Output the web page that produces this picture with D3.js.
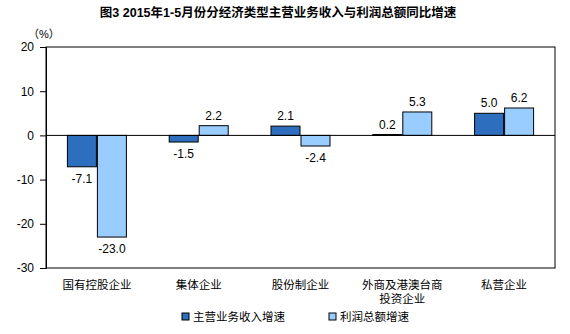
<!DOCTYPE html>
<html><head><meta charset="utf-8">
<script src="https://cdn.jsdelivr.net/npm/d3@7"></script>
<style>body{margin:0;background:#fff}svg{display:block}text{font-family:Arial,"Liberation Sans","Noto Sans CJK SC",sans-serif}</style>
</head><body>
<script>
const categories = [["国有控股企业"],["集体企业"],["股份制企业"],["外商及港澳台商","投资企业"],["私营企业"]];
const revenue = [-7.1, -1.5, 2.1, 0.2, 5.0];
const profit = [-23.0, 2.2, -2.4, 5.3, 6.2];
const seriesNames = ["主营业务收入增速", "利润总额增速"];
const yTicks = [20, 10, 0, -10, -20, -30];
const title = "图3  2015年1-5月份分经济类型主营业务收入与利润总额同比增速";

const W = 570, H = 334;
const svg = d3.select("body").append("svg").attr("width", W).attr("height", H);
const m = {l: 46, r: 555, t: 47, b: 268};
const colors = ["#2E6EBE", "#99CCFF"];
const cjk = "'Noto Sans CJK SC',sans-serif";

const x = d3.scaleBand().domain(d3.range(categories.length)).range([m.l, m.r]);
const y = d3.scaleLinear().domain([-30, 20]).range([m.b, m.t]);

svg.append("text").attr("x", 278).attr("y", 17).attr("text-anchor", "middle")
  .attr("font-size", 12.5).attr("font-weight", 600).attr("font-family", cjk).text(title);
svg.append("text").attr("x", 28).attr("y", 38).attr("font-size", 11).attr("font-family", cjk).text("（%）");

// plot frame
svg.append("rect").attr("x", m.l).attr("y", m.t).attr("width", m.r - m.l).attr("height", m.b - m.t)
  .attr("fill", "none").attr("stroke", "#000").attr("stroke-width", 1);

const yAxis = svg.append("g").attr("transform", `translate(${m.l},0)`)
  .call(d3.axisLeft(y).tickValues(yTicks).tickSize(6).tickPadding(6).tickFormat(d => String(d)));
yAxis.select(".domain").attr("stroke", "#000");
yAxis.selectAll("text").attr("font-size", 12).attr("fill", "#000").attr("font-family", "Arial,'Liberation Sans',sans-serif");

const bw = 29, gap = 1;
const data = [revenue, profit];
data.forEach((vals, si) => {
  const off = si === 0 ? -bw - gap / 2 : gap / 2;
  svg.append("g").selectAll("rect").data(vals).join("rect")
    .attr("x", (d, i) => x(i) + x.bandwidth() / 2 + off)
    .attr("y", d => y(Math.max(0, d)))
    .attr("width", bw)
    .attr("height", d => Math.abs(y(d) - y(0)))
    .attr("fill", colors[si]).attr("stroke", "#000").attr("stroke-width", 1);
  svg.append("g").selectAll("text").data(vals).join("text")
    .attr("x", (d, i) => x(i) + x.bandwidth() / 2 + off + bw / 2)
    .attr("y", d => d >= 0 ? y(d) - 6 : y(d) + 16)
    .attr("text-anchor", "middle").attr("font-size", 12).attr("fill", "#000")
    .text(d => d.toFixed(1));
});

// zero line
svg.append("line").attr("x1", m.l).attr("x2", m.r).attr("y1", y(0)).attr("y2", y(0)).attr("stroke", "#000");

// category labels
categories.forEach((lines, i) => {
  lines.forEach((t, j) => {
    svg.append("text").attr("x", x(i) + x.bandwidth() / 2).attr("y", 289 + j * 14)
      .attr("text-anchor", "middle").attr("font-size", 11.5).attr("font-family", cjk).text(t);
  });
});

// legend
const legX = [182, 329];
seriesNames.forEach((n, i) => {
  svg.append("rect").attr("x", legX[i]).attr("y", 313).attr("width", 7).attr("height", 7)
    .attr("fill", colors[i]).attr("stroke", "#000");
  svg.append("text").attr("x", legX[i] + 11).attr("y", 321).attr("font-size", 11.5)
    .attr("font-family", cjk).text(n);
});
</script>
</body></html>
